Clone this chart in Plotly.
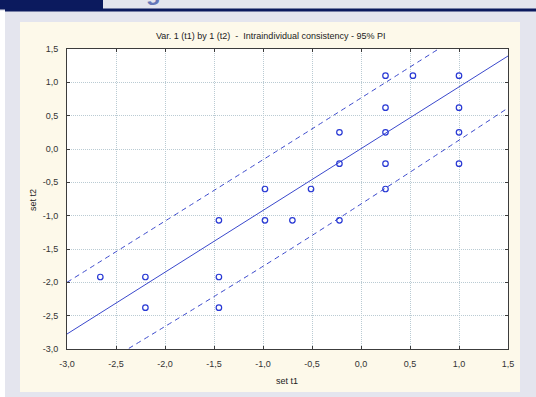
import plotly.graph_objects as go

# ---- data ----
set_t1 = [-2.66, -2.20, -2.20, -1.45, -1.45, -1.45, -0.98, -0.98, -0.70, -0.51,
          -0.22, -0.22, -0.22, 0.25, 0.25, 0.25, 0.25, 0.25, 0.53, 1.00, 1.00, 1.00, 1.00]
set_t2 = [-1.92, -1.92, -2.38, -1.07, -1.92, -2.38, -0.60, -1.07, -1.07, -0.60,
          0.25, -0.22, -1.07, 1.10, 0.62, 0.25, -0.22, -0.60, 1.10, 1.10, 0.62, 0.25, -0.22]

fit_x = [-3.0, 1.5]
fit_y = [-2.775, 1.395]
pi_upper_x = [-3.0, -0.75, 1.5]
pi_upper_y = [-2.00, 0.07, 2.16]
pi_lower_x = [-3.0, -0.75, 1.5]
pi_lower_y = [-3.55, -1.53, 0.615]

tick_vals = [-3.0, -2.5, -2.0, -1.5, -1.0, -0.5, 0.0, 0.5, 1.0, 1.5]
tick_text = ["-3,0", "-2,5", "-2,0", "-1,5", "-1,0", "-0,5", "0,0", "0,5", "1,0", "1,5"]

title_text = "Var. 1 (t1) by 1 (t2)  -  Intraindividual consistency - 95% PI"

# ---- layout geometry (pixels) ----
W, H = 536, 397
L, R, T, B = 67, 508, 49, 349
pw, ph = R - L, B - T


def px(x):
    return (x - L) / pw


def py(y):
    return (B - y) / ph


line_col = "#3a48cc"
pt_col = "#2838d4"
font = "Liberation Sans, Arial, sans-serif"

fig = go.Figure()
fig.add_trace(go.Scatter(x=fit_x, y=fit_y, mode="lines",
                         line=dict(color=line_col, width=1), hoverinfo="skip"))
fig.add_trace(go.Scatter(x=pi_upper_x, y=pi_upper_y, mode="lines",
                         line=dict(color=line_col, width=1, dash="5px,4px", shape="spline"),
                         hoverinfo="skip"))
fig.add_trace(go.Scatter(x=pi_lower_x, y=pi_lower_y, mode="lines",
                         line=dict(color=line_col, width=1, dash="5px,4px", shape="spline"),
                         hoverinfo="skip"))
fig.add_trace(go.Scatter(x=set_t1, y=set_t2, mode="markers",
                         marker=dict(symbol="circle-open", size=5.5, color=pt_col,
                                     line=dict(width=1.2, color=pt_col)),
                         cliponaxis=False))

shapes = [
    # white left strip
    dict(type="rect", xref="paper", yref="paper", x0=px(0), x1=px(5), y0=py(H), y1=py(11),
         fillcolor="white", line_width=0, layer="below"),
    # navy header block
    dict(type="rect", xref="paper", yref="paper", x0=px(0), x1=px(103), y0=py(9.5), y1=py(0),
         fillcolor="#0b1a5e", line_width=0, layer="below"),
    # navy rule
    dict(type="rect", xref="paper", yref="paper", x0=px(5), x1=px(W), y0=py(11.5), y1=py(8.5),
         fillcolor="#0b1a5e", line_width=0, layer="below"),
    # cream panel
    dict(type="rect", xref="paper", yref="paper", x0=px(20), x1=px(520), y0=py(392), y1=py(22),
         fillcolor="#fdf9ea", line_width=0, layer="below"),
    # white plot area
    dict(type="rect", xref="paper", yref="paper", x0=0, x1=1, y0=0, y1=1,
         fillcolor="white", line_width=0, layer="below"),
]

annotations = [
    dict(text=title_text, xref="paper", yref="paper", x=px(270), y=py(36),
         xanchor="center", yanchor="middle", showarrow=False,
         font=dict(family=font, size=9, color="#222222")),
    dict(text="set t1", xref="paper", yref="paper", x=px(287), y=py(381),
         xanchor="center", yanchor="middle", showarrow=False,
         font=dict(family=font, size=9, color="#222222")),
    dict(text="set t2", xref="paper", yref="paper", x=px(33), y=py(200),
         xanchor="center", yanchor="middle", showarrow=False, textangle=-90,
         font=dict(family=font, size=9, color="#222222")),
    dict(text="<b>Cog</b>", xref="paper", yref="paper", x=px(112), y=py(7),
         xanchor="left", yanchor="bottom", showarrow=False,
         font=dict(family=font, size=24, color="#6576b8")),
]

axis_common = dict(
    tickvals=tick_vals, ticktext=tick_text, range=[-3.0, 1.5],
    showgrid=True, gridcolor="#bacbd3", griddash="1px,1px", gridwidth=1,
    zeroline=False, showline=True, linecolor="#3c3c3c", linewidth=1, mirror="ticks",
    ticks="inside", ticklen=3, tickcolor="#3c3c3c", tickwidth=1,
    tickfont=dict(family=font, size=9, color="#333333"),
)

fig.update_layout(
    width=W, height=H, autosize=False,
    margin=dict(l=L, r=W - R, t=T, b=H - B, pad=0),
    paper_bgcolor="#e4e5ee", plot_bgcolor="rgba(0,0,0,0)",
    showlegend=False, shapes=shapes, annotations=annotations,
    xaxis=dict(axis_common, ticklabelstandoff=6),
    yaxis=dict(axis_common, ticklabelstandoff=6),
)

fig.write_html("out.html", config={"displayModeBar": False},
               post_script="document.body.style.margin='0';document.body.style.overflow='hidden';")
